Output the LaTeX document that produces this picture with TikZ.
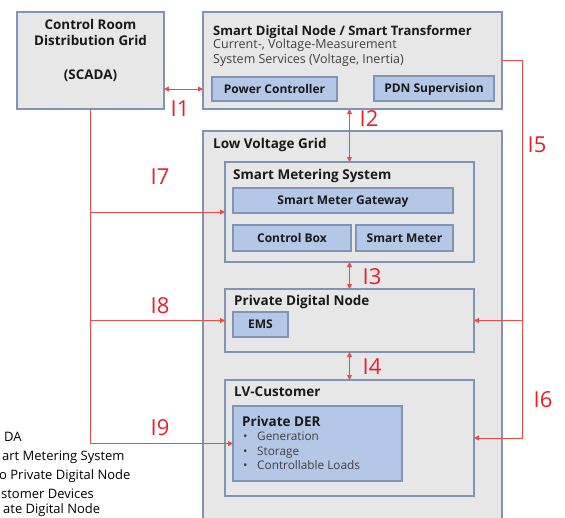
\documentclass[tikz,border=0pt]{standalone}
\usepackage{fontspec}
\setmainfont{Open Sans}
\usetikzlibrary{positioning}
\usetikzlibrary{arrows.meta}
\definecolor{boxgray}{HTML}{E7E7E7}
\definecolor{boxline}{HTML}{8094B8}
\definecolor{boxblue}{HTML}{B4C7E7}
\definecolor{linkred}{HTML}{F24848}
\definecolor{labred}{HTML}{E8202A}
\definecolor{txtgray}{HTML}{404040}

\begin{document}
\begin{tikzpicture}[x=1pt,y=-1pt,
  greybox/.style={draw=boxline, fill=boxgray, line width=1.3pt, outer sep=0pt, inner sep=0pt, anchor=north west},
  bluebox/.style={draw=boxline, fill=boxblue, line width=1.3pt, outer sep=0pt, inner sep=0pt, anchor=north west,
    font=\fontsize{12}{14}\selectfont\bfseries, text=black!90, text height=8.6pt, text depth=0pt},
  ttl/.style={anchor=base west, inner sep=0pt, font=\fontsize{13.5}{15}\selectfont\bfseries, text=black!90},
  sub/.style={anchor=base west, inner sep=0pt, font=\fontsize{12.5}{14}\selectfont, text=txtgray},
  crtxt/.style={anchor=base, inner sep=0pt, font=\fontsize{13.4}{15}\selectfont\bfseries, text=black!90},
  legtxt/.style={anchor=base west, inner sep=0pt, font=\fontsize{13}{15}\selectfont},
  lbl/.style={inner sep=0pt, font=\fontsize{22}{24}\selectfont, text=labred},
  link/.style={draw=linkred, line width=0.9pt},
  tri/.tip={Triangle[length=5pt,width=5pt]}]

\useasboundingbox (0,0) rectangle (565,517);
\clip (0,0) rectangle (565,517);

% control room
\node[greybox, minimum width=147pt, minimum height=97pt] (scada) at (17,12) {};
\node[crtxt] (cr1) at (90.5,29.3) {Control Room};
\node[crtxt] (cr2) at (90.5,45) {Distribution Grid};
\node[crtxt] (cr3) at (90.5,79) {(SCADA)};

% smart digital node
\node[greybox, minimum width=299pt, minimum height=97pt] (sdn) at (203,12) {};
\node[ttl, font=\fontsize{13}{15}\selectfont\bfseries] (sdnttl) at (213,35.7) {Smart Digital Node / Smart Transformer};
\node[sub] (sdnsub1) at (213,48.3) {Current-, Voltage-Measurement};
\node[sub] (sdnsub2) at (213,63.3) {System Services (Voltage, Inertia)};
\node[bluebox, minimum width=125pt, minimum height=24pt] (pc) at (212,77) {Power Controller};
\node[bluebox, minimum width=120pt, minimum height=25pt] (pdns) at (374,76) {PDN Supervision};

% low voltage grid
\node[greybox, minimum width=299pt, minimum height=420pt] (lvg) at (203,131) {};
\node[ttl] (lvgttl) at (213,148.3) {Low Voltage Grid};

\node[greybox, minimum width=249pt, minimum height=100pt] (sms) at (225,162) {};
\node[ttl] (smsttl) at (233,179.3) {Smart Metering System};
\node[bluebox, minimum width=220pt, minimum height=25pt] (smg) at (233,188) {Smart Meter Gateway};
\node[bluebox, minimum width=118pt, minimum height=26pt] (cbox) at (233,225) {Control Box};
\node[bluebox, minimum width=97pt, minimum height=26pt] (smeter) at (356,225) {Smart Meter};

\node[greybox, minimum width=249pt, minimum height=63pt] (pdn) at (225,289) {};
\node[ttl] (pdnttl) at (234,305.7) {Private Digital Node};
\node[bluebox, minimum width=55pt, minimum height=25pt] (ems) at (233,312) {EMS};

\node[greybox, minimum width=249pt, minimum height=116pt] (lvc) at (225,380) {};
\node[ttl] (lvcttl) at (234,396.7) {LV-Customer};
\node[bluebox, minimum width=169pt, minimum height=75pt] (der) at (233,406) {};
\node[ttl] (derttl) at (242,426) {Private DER};
\node[sub, font=\fontsize{11.8}{14}\selectfont] (der1) at (243,440.7) {\makebox[14pt][l]{\textbullet}Generation};
\node[sub, font=\fontsize{11.8}{14}\selectfont] (der2) at (243,455) {\makebox[14pt][l]{\textbullet}Storage};
\node[sub, font=\fontsize{11.8}{14}\selectfont] (der3) at (243,469) {\makebox[14pt][l]{\textbullet}Controllable Loads};

% legend (cut off)
\node[legtxt] (leg1) at (4,441.7) {DA};
\node[legtxt] (leg2) at (2,460) {art Metering System};
\node[legtxt] (leg3) at (-1,479) {o Private Digital Node};
\node[legtxt] (leg4) at (1,498.3) {stomer Devices};
\node[legtxt] (leg5) at (3,513) {ate Digital Node};

% interfaces
\coordinate (rbus) at (522,0);
\draw[link, tri-tri] (scada.east |- pc.west) -- (sdn.west |- pc.west);
\draw[link, tri-tri] (sms.north |- sdn.south) -- (sms.north);
\draw[link, tri-tri] (sms.south) -- (pdn.north);
\draw[link, tri-tri] (pdn.south) -- (lvc.north);
\draw[link, -tri] (sdn.east) -| (rbus |- lvc.east) -- (lvc.east);
\draw[link, -tri] (rbus |- pdn.east) -- (pdn.east);
\draw[link, -tri] (scada.south) |- (der.west);
\draw[link, -tri] (scada.south |- sms.west) -- (sms.west);
\draw[link, -tri] (scada.south |- pdn.west) -- (pdn.west);

\node[lbl] (l1) at (180,108.5) {I1};
\node[lbl] (l2) at (369,119) {I2};
\node[lbl] (l3) at (372,277) {I3};
\node[lbl] (l4) at (372,367) {I4};
\node[lbl] (l5) at (537,145) {I5};
\node[lbl] (l6) at (543,400) {I6};
\node[lbl] (l7) at (160,177) {I7};
\node[lbl] (l8) at (160,306) {I8};
\node[lbl] (l9) at (160,428) {I9};

\end{tikzpicture}
\end{document}
